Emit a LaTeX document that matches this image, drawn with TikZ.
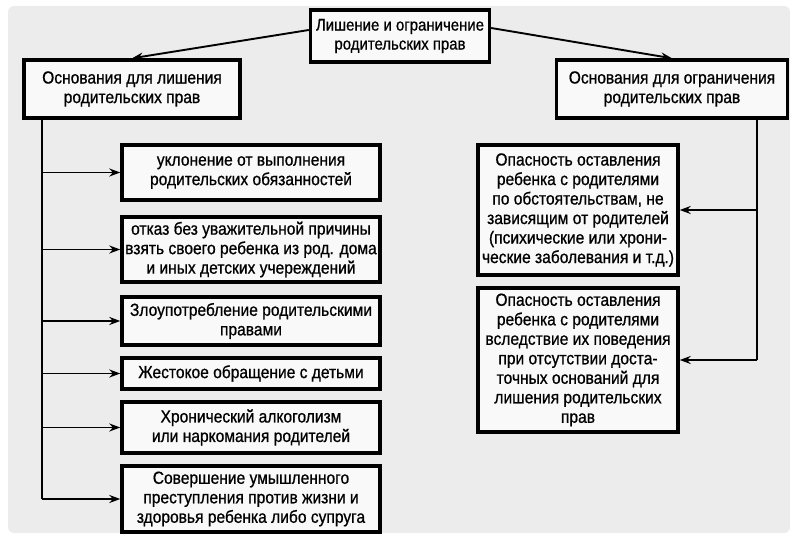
\documentclass[tikz,border=0pt]{standalone}
\usepackage{fontspec}
\setmainfont{Liberation Sans}[FakeStretch=0.89, FakeBold=0.8]
\usepackage{tikz}
\usetikzlibrary{calc, arrows.meta}

\definecolor{bggray}{HTML}{ECECEC}
\definecolor{boxfill}{HTML}{F9F9F9}

\tikzset{
	box/.style = {draw, line width = 3.4pt, fill = boxfill, align = center, inner sep = 2pt,
		font = \fontsize{17.5}{19.5}\selectfont},
	link/.style = {-{Stealth[length = 11pt, width = 8pt]}, line width = 1.9pt}
}

\begin{document}
\begin{tikzpicture}[x = 1pt, y = -1pt]
		%page and background
		\useasboundingbox (0,0) rectangle (800,540);
		\fill [bggray, rounded corners = 6pt] (8,6) rectangle (790,533);
		
		%title
		\node [box, minimum width = 179pt, minimum height = 52pt, font = \fontsize{16.8}{19}\selectfont] (top) at (400,36) {Лишение и ограничение\\родительских прав};
		
		%two branches
		\node [box, minimum width = 216pt, minimum height = 58pt] (lhead) at (132,89) {Основания для лишения\\родительских прав};
		\node [box, minimum width = 231pt, minimum height = 58pt] (rhead) at (672,89) {Основания для ограничения\\родительских прав};
		
		\draw [link] ($(top.west)+(0,-6)$) -- (lhead.north);
		\draw [link] ($(top.east)+(0,-8)$) -- (rhead.north);
		
		%grounds for deprivation
		\node [box, minimum width = 258pt, minimum height = 55pt] (l1) at (251,172.5) {уклонение от выполнения\\родительских обязанностей};
		\node [box, minimum width = 258pt, minimum height = 65pt] (l2) at (251,249.5) {отказ без уважительной причины\\взять своего ребенка из род. дома\\и иных детских учереждений};
		\node [box, minimum width = 258pt, minimum height = 48pt] (l3) at (251,321) {Злоупотребление родительскими\\правами};
		\node [box, minimum width = 258pt, minimum height = 31pt] (l4) at (251,373.5) {Жестокое обращение с детьми};
		\node [box, minimum width = 258pt, minimum height = 51pt] (l5) at (251,427.5) {Хронический алкоголизм\\или наркомания родителей};
		\node [box, minimum width = 258pt, minimum height = 66pt] (l6) at (251,499) {Совершение умышленного\\преступления против жизни и\\здоровья ребенка либо супруга};
		
		%grounds for restriction
		\node [box, minimum width = 200pt, minimum height = 130pt] (r1) at (578,210) {Опасность оставления\\ребенка с родителями\\по обстоятельствам, не\\зависящим от родителей\\(психические или хрони-\\ческие заболевания и т.д.)};
		\node [box, minimum width = 200pt, minimum height = 144pt] (r2) at (578,360) {Опасность оставления\\ребенка с родителями\\вследствие их поведения\\при отсутствии доста-\\точных оснований для\\лишения родительских\\прав};
		
		%left trunk
		\coordinate (lt) at ($(lhead.south west)+(20,0)$);
		\draw [line width = 1.9pt] (lt) -- (lt |- l6.west);
		\foreach \n in {l1, l2, l3, l4, l5, l6}
			\draw [link] (lt |- \n.west) -- (\n.west);
		
		%right trunk
		\coordinate (rt) at ($(rhead.south east)+(-32,0)$);
		\draw [line width = 1.9pt] (rt) -- (rt |- r2.east);
		\foreach \n in {r1, r2}
			\draw [link] (rt |- \n.east) -- (\n.east);
	\end{tikzpicture}
\end{document}
